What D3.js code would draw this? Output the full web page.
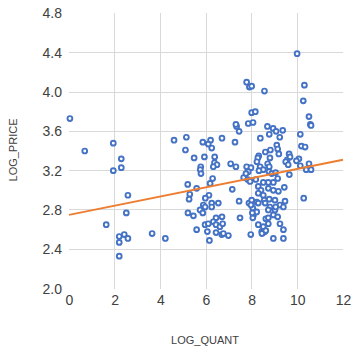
<!DOCTYPE html>
<html><head><meta charset="utf-8">
<script src="https://cdn.jsdelivr.net/npm/d3@7"></script>
<style>body{margin:0;background:#fff}svg{display:block}</style>
</head><body>
<svg id="c" width="353" height="352"></svg>
<script>
const logQuant = [0.04,0.69,1.94,2.29,2.29,1.94,2.58,2.51,1.63,2.20,2.42,2.58,2.20,2.20,3.64,4.22,4.60,
5.14,5.10,5.86,6.20,6.25,6.10,6.70,7.27,7.34,7.45,7.31,5.48,5.93,6.38,6.37,6.48,6.32,5.77,5.75,5.78,7.08,7.31,
5.20,5.59,6.29,6.18,7.15,7.65,5.29,5.26,6.13,5.97,6.25,6.54,7.45,5.88,5.96,6.25,5.21,5.45,5.74,5.86,6.70,6.44,7.49,
5.96,6.10,6.32,6.44,6.61,6.73,5.59,6.06,6.44,6.69,6.98,6.76,6.15,
7.78,7.90,8.00,8.56,8.00,8.16,7.85,8.06,8.38,8.31,8.27,8.23,7.78,7.97,7.85,7.75,8.37,8.51,8.32,7.83,7.93,8.18,8.51,
8.29,8.41,8.29,8.51,7.88,8.00,8.22,8.55,8.05,8.08,8.05,8.22,8.29,8.51,8.58,8.44,7.96,7.97,8.29,8.59,8.03,8.62,8.73,8.51,8.45,8.62,
8.69,8.94,8.77,9.07,9.36,9.23,9.10,9.14,9.19,9.64,8.60,8.82,8.80,8.70,8.77,9.56,9.49,9.60,8.76,8.88,9.05,9.65,8.73,8.95,9.14,
8.73,8.95,9.17,9.43,8.77,9.02,9.46,8.73,8.95,9.14,9.24,9.39,8.95,9.39,8.80,8.73,9.02,9.24,9.39,9.05,
9.99,10.31,10.26,10.51,10.57,10.60,10.13,10.18,10.34,9.68,10.07,9.96,10.13,10.39,10.60,10.51,10.28];
const logPrice = [3.73,3.40,3.48,3.32,3.23,3.20,2.95,2.77,2.65,2.53,2.55,2.51,2.47,2.33,2.56,2.51,3.51,
3.54,3.41,3.49,3.51,3.43,3.47,3.53,3.49,3.65,3.60,3.67,3.33,3.34,3.34,3.28,3.26,3.24,3.24,3.21,3.17,3.27,3.24,
3.06,3.02,3.12,3.07,3.01,3.13,2.96,2.91,2.95,2.92,2.87,2.87,2.89,2.85,2.83,2.83,2.77,2.74,2.80,2.77,2.73,2.72,2.72,
2.65,2.66,2.68,2.65,2.63,2.66,2.60,2.58,2.57,2.55,2.54,2.56,2.49,
4.10,4.05,4.06,4.01,3.79,3.80,3.68,3.69,3.53,3.35,3.33,3.29,3.24,3.23,3.19,3.17,3.24,3.21,3.20,3.11,3.09,3.11,3.08,
3.04,3.00,2.97,2.95,2.87,2.90,2.88,2.90,2.82,2.75,2.72,2.78,2.65,2.63,2.58,2.58,2.55,2.85,2.87,2.87,2.77,2.71,2.66,2.57,2.56,2.59,
3.65,3.63,3.57,3.60,3.61,3.54,3.46,3.42,3.37,3.37,3.39,3.41,3.33,3.27,3.24,3.31,3.29,3.26,3.19,3.17,3.18,3.16,3.08,3.08,3.12,
3.02,3.00,2.99,3.03,2.91,2.90,2.89,2.72,2.75,2.73,2.66,2.60,2.51,2.51,2.83,2.80,2.80,2.85,2.83,2.83,
4.39,4.07,3.91,3.75,3.67,3.66,3.57,3.45,3.44,3.34,3.32,3.30,3.25,3.21,3.21,3.27,2.92];
const trendX = [0, 12];
const trendY = [2.75, 3.31];
const xTicks = [0,2,4,6,8,10,12];
const yTicks = [2.0,2.4,2.8,3.2,3.6,4.0,4.4,4.8];

const svg = d3.select('#c');
const x = d3.scaleLinear().domain([0,12]).range([69,343]);
const y = d3.scaleLinear().domain([2.0,4.8]).range([288.6,13.4]);
const font = "'Liberation Sans', Arial, sans-serif";
const textCol = '#404040';

// gridlines (interior only)
svg.append('g').selectAll('line').data(yTicks.filter(v=>v>2.0 && v<4.8)).join('line')
  .attr('x1',x(0)).attr('x2',x(12)).attr('y1',d=>y(d)).attr('y2',d=>y(d))
  .attr('stroke','#d9d9d9').attr('stroke-width',1).attr('shape-rendering','crispEdges');
svg.append('g').selectAll('line').data(xTicks.filter(v=>v>0 && v<12)).join('line')
  .attr('x1',d=>x(d)).attr('x2',d=>x(d)).attr('y1',y(4.8)).attr('y2',y(2.0))
  .attr('stroke','#d9d9d9').attr('stroke-width',1).attr('shape-rendering','crispEdges');

// axes
const yAxis = d3.axisLeft(y).tickValues(yTicks).tickFormat(d3.format('.1f')).tickSize(0).tickPadding(7);
const gy = svg.append('g').attr('transform',`translate(${x(0)},0)`).call(yAxis);
const xAxis = d3.axisBottom(x).tickValues(xTicks).tickFormat(d3.format('d')).tickSize(0).tickPadding(6);
const gx = svg.append('g').attr('transform',`translate(0,${y(2.0)})`).call(xAxis);
[gx,gy].forEach(g=>{
  g.select('.domain').remove();
  g.selectAll('text').attr('font-family',font).attr('font-size',14).attr('fill',textCol);
});

// points
const pts = logQuant.map((q,i)=>({q, p:logPrice[i]}));
svg.append('g').selectAll('circle').data(pts).join('circle')
  .attr('cx',d=>x(d.q)).attr('cy',d=>y(d.p)).attr('r',2.4)
  .attr('fill','#fff').attr('stroke','#4472c4').attr('stroke-width',1.9);

// trend line
svg.append('path').datum(trendX.map((v,i)=>[v,trendY[i]]))
  .attr('d',d3.line().x(d=>x(d[0])).y(d=>y(d[1])))
  .attr('stroke','#ed7d31').attr('stroke-width',2).attr('fill','none');

// axis titles
svg.append('text').attr('x',205).attr('y',344).attr('text-anchor','middle')
  .attr('font-family',font).attr('font-size',11).attr('fill',textCol).text('LOG_QUANT');
svg.append('text').attr('transform','translate(17,150) rotate(-90)').attr('text-anchor','middle')
  .attr('font-family',font).attr('font-size',11).attr('fill',textCol).text('LOG_PRICE');
</script>
</body></html>
